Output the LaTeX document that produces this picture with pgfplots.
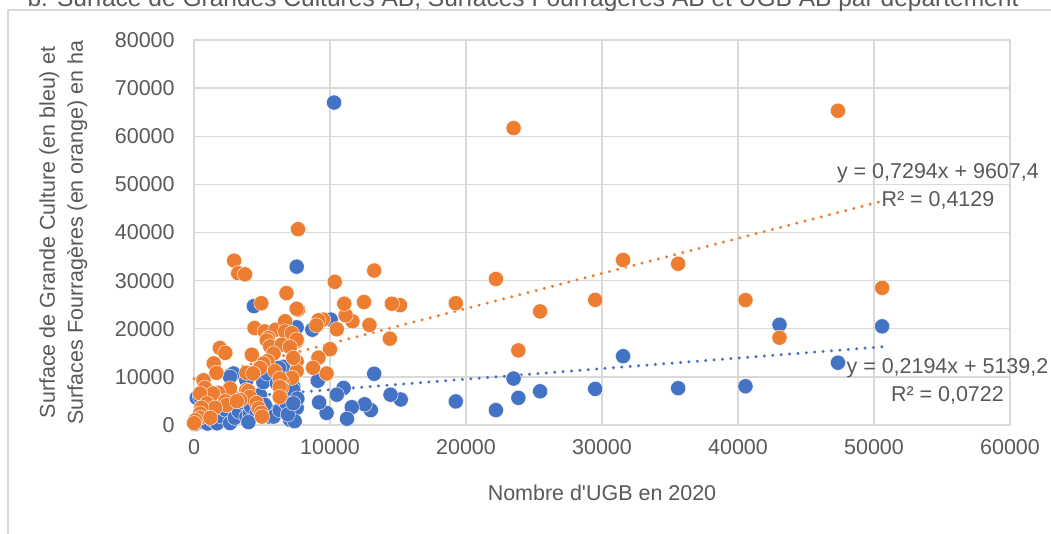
\documentclass[border=0pt]{standalone}
\usepackage{fontspec}
\setmainfont{Liberation Sans}
\usepackage{pgfplots}
\usepackage{pgfplotstable}
\pgfplotsset{compat=1.18}
\definecolor{gcblue}{HTML}{4472C4}
\definecolor{sforange}{HTML}{ED7D31}
\definecolor{txtgray}{HTML}{595959}
\definecolor{gridgray}{HTML}{D9D9D9}

\pgfplotstableread{
x y
50600 20500
47350 12950
43050 20850
40550 8050
35600 7650
31550 14300
29500 7500
25450 7000
23850 5650
23500 9650
22200 3100
19250 4900
15200 5300
14450 6300
13250 10650
13000 3100
12550 4300
11600 3700
11250 1300
11000 7700
10500 6300
10050 21900
9750 2500
9200 4700
9100 9200
8700 19800
10300 67000
7550 32900
7550 20300
4400 24700
6550 12100
6250 11850
2900 10700
5850 10000
7300 7950
50 200
200 5650
450 5850
300 1200
700 600
1000 300
1400 1000
1200 2500
1700 350
2000 1800
2300 3200
2650 400
2650 10000
3000 1500
3300 2800
3500 4800
3850 9300
3850 1750
4100 2400
4200 3800
4600 2400
4850 6200
5100 8900
5400 10700
5500 3000
5600 1700
5850 1750
6100 8650
6300 3100
6500 5300
6800 4500
7050 1100
7300 7250
7550 3550
7600 5500
7400 800
6900 2200
5200 4200
4000 600
2800 6000
1600 5200
800 3600
7300 4500
}\gcdata

\pgfplotstableread{
x y
50600 28500
47350 65300
43050 18150
40550 25950
35600 33500
31550 34300
29500 26000
25450 23600
23850 15500
23500 61700
22200 30350
19250 25300
15150 24900
14550 25200
14400 17950
13250 32100
12900 20800
12500 25550
11650 21550
11150 22800
11050 25200
10500 19900
10350 29750
10000 15750
9750 10700
9500 21900
9150 21750
9150 14000
9000 20700
8750 11900
7650 40700
7650 23950
7550 17400
7550 13250
7550 11200
2950 34150
3250 31550
3750 31300
6800 27400
4950 25300
7550 24150
4450 20150
5200 19450
6000 19800
6700 21550
6700 19450
7200 19100
7550 17750
5450 18100
5350 17600
5600 16350
6450 16700
7050 16200
1900 16000
2300 15000
4250 14600
5850 14850
7300 13950
5400 13250
5100 12750
1450 12800
4850 11850
5950 11200
3850 10850
4350 10700
1650 10850
7200 9800
6450 9100
6300 9650
6450 7700
6300 7900
700 9300
800 7750
2650 7600
3850 7250
1800 6700
4000 7050
1400 6550
450 6550
4100 5850
6300 5850
3400 5200
2300 4950
2400 4150
3150 4950
4600 4600
950 4500
4750 3450
4950 2550
5000 1750
1550 3600
550 3600
450 2400
450 1500
1200 1500
100 1000
0 400
}\sfdata

\begin{document}
\begin{tikzpicture}[x=0.75pt,y=0.75pt]
\useasboundingbox (0,0) rectangle (1051,533);
\clip (0,0) rectangle (1051,533);
\fill[white] (0,0) rectangle (1051,533);
\draw[gridgray, line width=1pt] (8,-10) -- (8,523) -- (1070,523);
\node[anchor=base, text=txtgray, font=\fontsize{18.4}{22}\selectfont] at (523,526)
  {b. Surface de Grandes Cultures AB, Surfaces Fourragères AB et UGB AB par département};
\begin{axis}[
  at={(145.5pt,81pt)}, anchor=south west,
  scale only axis, width=612pt, height=288.75pt,
  xmin=0, xmax=60000, ymin=0, ymax=80000,
  xtick={0,10000,...,60000}, ytick={0,10000,...,80000},
  scaled ticks=false,
  /pgf/number format/.cd, 1000 sep={}, assume math mode=true, /pgfplots/.cd,
  grid=major, major grid style={gridgray, line width=1pt},
  axis line style={gridgray, line width=1pt},
  major tick length=0pt,
  ticklabel style={text=txtgray, font=\fontsize{16.1}{19}\selectfont},
  yticklabel style={xshift=-11pt},
  xticklabel style={yshift=-7.3pt},
  every axis x label/.style={at={(axis description cs:0.5,-0.1766)}, anchor=center},
  every axis y label/.style={at={(axis description cs:-0.16,0.5)}, rotate=90, anchor=center},
  label style={text=txtgray, font=\fontsize{16.1}{21}\selectfont, align=center},
  xlabel={Nombre d\textquotesingle UGB en 2020},
  ylabel={Surface de Grande Culture (en bleu) et\\Surfaces Fourragères (en orange) en ha},
  clip=false,
]
\addplot[only marks, mark=*, mark size=5.7pt, mark options={fill=gcblue, draw=white, line width=0.3pt}] table {\gcdata};
\addplot[only marks, mark=*, mark size=5.7pt, mark options={fill=sforange, draw=white, line width=0.3pt}] table {\sfdata};
\addplot[sforange, line width=2.5pt, line cap=round, dash pattern=on 0.01pt off 6.3pt] coordinates {(0,9607.4) (50600,46515)};
\addplot[gcblue, line width=2.5pt, line cap=round, dash pattern=on 0.01pt off 6.3pt] coordinates {(0,5139.2) (50600,16241)};
\node[text=txtgray, font=\fontsize{16.1}{21}\selectfont, align=center] at (axis cs:54700,49500) {y = 0,7294x + 9607,4\\R² = 0,4129};
\node[text=txtgray, font=\fontsize{16.1}{21}\selectfont, align=center] at (axis cs:55400,9100) {y = 0,2194x + 5139,2\\R² = 0,0722};
\end{axis}
\end{tikzpicture}
\end{document}
